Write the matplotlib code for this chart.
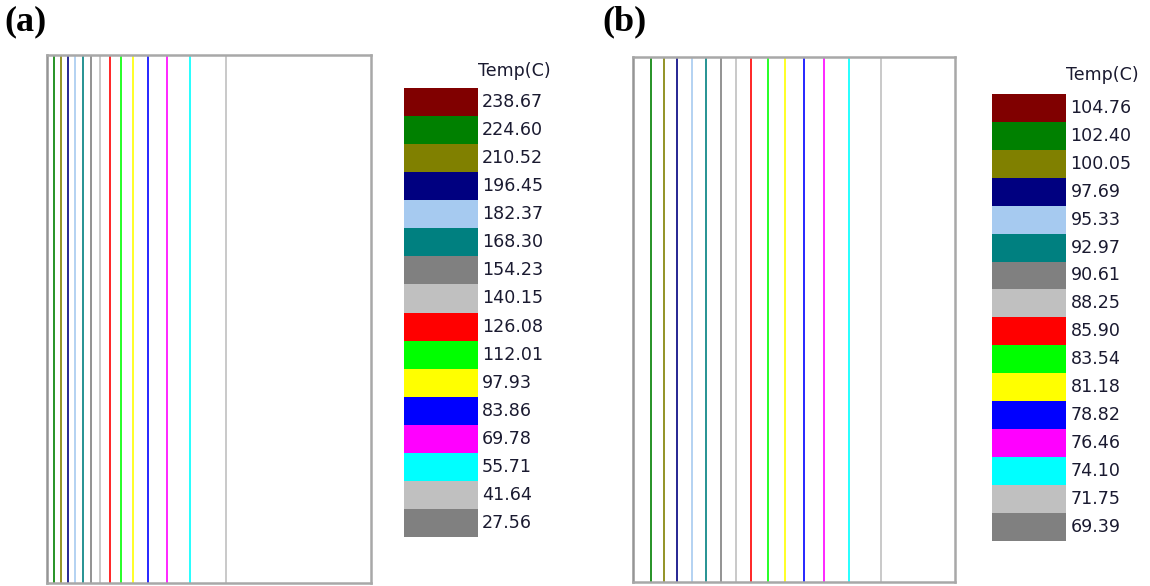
import matplotlib.pyplot as plt

# isotherm levels and colours shared by both panels (legend order, hot -> cold)
level_colors = ['#800000', '#008000', '#808000', '#000080', '#a6caf0', '#008080',
                '#808080', '#c0c0c0', '#ff0000', '#00ff00', '#ffff00', '#0000ff',
                '#ff00ff', '#00ffff', '#c0c0c0', '#808080']

levels_a = [238.67, 224.60, 210.52, 196.45, 182.37, 168.30, 154.23, 140.15,
            126.08, 112.01, 97.93, 83.86, 69.78, 55.71, 41.64, 27.56]
levels_b = [104.76, 102.40, 100.05, 97.69, 95.33, 92.97, 90.61, 88.25,
            85.90, 83.54, 81.18, 78.82, 76.46, 74.10, 71.75, 69.39]

# x position (fraction of domain width) of the isotherms 224.60 ... 41.64
iso_x_a = [0.022, 0.043, 0.065, 0.086, 0.110, 0.136, 0.164, 0.194,
           0.228, 0.265, 0.312, 0.370, 0.441, 0.552]
iso_x_b = [0.055, 0.096, 0.137, 0.182, 0.226, 0.273, 0.319, 0.365,
           0.418, 0.471, 0.531, 0.594, 0.671, 0.769]

W, H = 1150, 586


def px_axes(fig, x0, y0, x1, y1):
    """axes from pixel box (top-left origin)"""
    return fig.add_axes([x0 / W, 1 - y1 / H, (x1 - x0) / W, (y1 - y0) / H])


def draw_field(ax, xs):
    ax.vlines(xs, 0, 1, colors=level_colors[1:-1], linewidth=1.4, alpha=0.85)
    ax.set_xlim(0, 1)
    ax.set_ylim(0, 1)
    ax.set_xticks([])
    ax.set_yticks([])
    for side in ax.spines.values():
        side.set_color('#a8a8a8')
        side.set_linewidth(1.8)
    ax.spines['left'].set_color('#959595')


def draw_legend(ax, levels, label_dx, title_dy):
    n = len(levels)
    ax.barh([i + 0.5 for i in range(n)], 1, height=1, left=0,
            color=level_colors, edgecolor='none')
    ax.set_xlim(0, 1)
    ax.set_ylim(n, 0)
    ax.axis('off')
    for i, v in enumerate(levels):
        ax.text(1 + label_dx, i + 0.5, '%.2f' % v, va='center', ha='left',
                fontsize=12.6, color='#1a1a30', clip_on=False)
    ax.text(1.0, title_dy, 'Temp(C)', va='center', ha='left',
            fontsize=12.6, color='#1a1a30', clip_on=False)


fig = plt.figure(figsize=(W / 100, H / 100), dpi=100)

ax_a = px_axes(fig, 47, 55, 371, 583)
draw_field(ax_a, iso_x_a)
ax_b = px_axes(fig, 633, 57, 955, 581.5)
draw_field(ax_b, iso_x_b)

leg_a = px_axes(fig, 404, 88.3, 478, 536.7)
draw_legend(leg_a, levels_a, 0.05, -0.6)
leg_b = px_axes(fig, 991.7, 94, 1066, 540.7)
draw_legend(leg_b, levels_b, 0.06, -0.68)

fig.text(4 / W, 1 - 22 / H, '(a)', fontsize=26, fontweight='bold',
         family='Liberation Serif', va='center', ha='left')
fig.text(602 / W, 1 - 22 / H, '(b)', fontsize=26, fontweight='bold',
         family='Liberation Serif', va='center', ha='left')

fig.savefig('out.png', dpi=100)
